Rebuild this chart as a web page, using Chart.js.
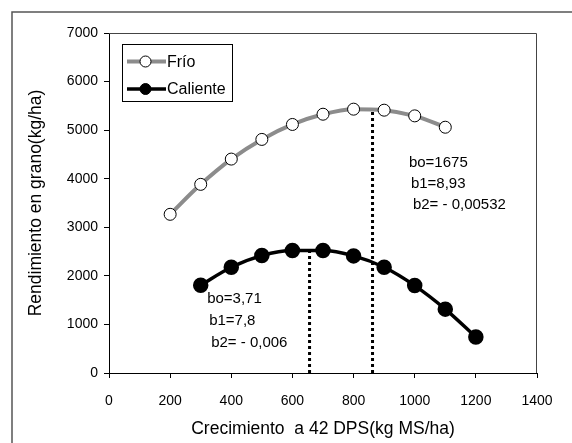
<!DOCTYPE html>
<html>
<head>
<meta charset="utf-8">
<script src="https://cdn.jsdelivr.net/npm/chart.js@4.4.1/dist/chart.umd.min.js"></script>
<style>
  html, body { margin: 0; padding: 0; background: #fff; }
  #wrap { width: 572px; height: 443px; }
</style>
</head>
<body>
<div id="wrap"><canvas id="grafico" width="572" height="443"></canvas></div>
<script>
// datos
const crecimientoFrio = [200, 300, 400, 500, 600, 700, 800, 900, 1000, 1100];
const rendFrio = [3267, 3884, 4404, 4809, 5117, 5328, 5432, 5411, 5294, 5060];
const crecimientoCaliente = [300, 400, 500, 600, 700, 800, 900, 1000, 1100, 1200];
const rendCaliente = [1808, 2178, 2417, 2520, 2520, 2411, 2178, 1800, 1315, 740];

// lineas de puntos (optimo de cada curva)
const optimoCaliente = [[656, 0], [656, 2520]];
const optimoFrio = [[862, 0], [862, 5420]];

const textoFrio = ['bo=1675', 'b1=8,93', 'b2= - 0,00532'];
const textoCaliente = ['bo=3,71', 'b1=7,8', 'b2= - 0,006'];

const fuente = "'Liberation Sans', Arial, sans-serif";

function pares(xs, ys) {
    return xs.map((x, i) => ({ x: x, y: ys[i] }));
}

const extras = {
    id: 'extras',
    afterDraw(chart) {
        const ctx = chart.ctx;
        const a = chart.chartArea;
        const sx = chart.scales.x, sy = chart.scales.y;
        ctx.save();
        // marco exterior (solo izquierda y arriba se ven)
        ctx.strokeStyle = '#555';
        ctx.lineWidth = 1.5;
        ctx.beginPath();
        ctx.moveTo(12, 443);
        ctx.lineTo(12, 12);
        ctx.lineTo(572, 12);
        ctx.stroke();
        // borde del area
        ctx.strokeStyle = '#444';
        ctx.lineWidth = 1;
        ctx.beginPath();
        ctx.moveTo(a.left, a.top + 0.5);
        ctx.lineTo(a.right - 0.5, a.top + 0.5);
        ctx.lineTo(a.right - 0.5, a.bottom);
        ctx.stroke();

        // textos de coeficientes
        ctx.fillStyle = '#000';
        ctx.font = '15px ' + fuente;
        ctx.textBaseline = 'middle';
        let x0 = sx.getPixelForValue(981), y0 = sy.getPixelForValue(4328);
        textoFrio.forEach((t, i) => ctx.fillText(t, x0 + i * 2, y0 + i * 21));
        x0 = sx.getPixelForValue(321); y0 = sy.getPixelForValue(1521);
        textoCaliente.forEach((t, i) => ctx.fillText(t, x0 + i * 2, y0 + i * 22));

        // leyenda
        const lx = 122, ly = 44;
        ctx.fillStyle = '#fff';
        ctx.fillRect(lx, ly, 110, 57);
        ctx.strokeStyle = '#000';
        ctx.lineWidth = 1;
        ctx.strokeRect(lx + 0.5, ly + 0.5, 110, 57);
        const items = [
            { t: 'Frío', c: '#8c8c8c', f: '#fff', w: 4, y: ly + 17.5 },
            { t: 'Caliente', c: '#000', f: '#000', w: 3.5, y: ly + 45 }
        ];
        items.forEach(it => {
            ctx.strokeStyle = it.c;
            ctx.lineWidth = it.w;
            ctx.beginPath();
            ctx.moveTo(lx + 5, it.y);
            ctx.lineTo(lx + 44, it.y);
            ctx.stroke();
            ctx.beginPath();
            ctx.arc(lx + 23.5, it.y, 5.5, 0, Math.PI * 2);
            ctx.fillStyle = it.f;
            ctx.fill();
            ctx.lineWidth = 1;
            ctx.strokeStyle = '#000';
            ctx.stroke();
            ctx.fillStyle = '#000';
            ctx.font = '16px ' + fuente;
            ctx.fillText(it.t, lx + 45, it.y + 1);
        });
        ctx.restore();
    }
};

const config = {
    type: 'line',
    data: {
        datasets: [
            {
                label: 'Frío',
                data: pares(crecimientoFrio, rendFrio),
                borderColor: '#8c8c8c',
                borderWidth: 4,
                pointBackgroundColor: '#fff',
                pointBorderColor: '#000',
                pointBorderWidth: 1,
                pointRadius: 6,
                tension: 0.4,
                cubicInterpolationMode: 'monotone'
            },
            {
                label: 'Caliente',
                data: pares(crecimientoCaliente, rendCaliente),
                borderColor: '#000',
                borderWidth: 3.5,
                pointBackgroundColor: '#000',
                pointBorderColor: '#000',
                pointRadius: 6,
                tension: 0.4,
                cubicInterpolationMode: 'monotone'
            },
            {
                label: 'optC',
                data: optimoCaliente.map(p => ({ x: p[0], y: p[1] })),
                borderColor: '#000',
                borderWidth: 3,
                borderDash: [3, 3],
                pointRadius: 0,
                tension: 0
            },
            {
                label: 'optF',
                data: optimoFrio.map(p => ({ x: p[0], y: p[1] })),
                borderColor: '#000',
                borderWidth: 3,
                borderDash: [3, 3],
                pointRadius: 0,
                tension: 0
            }
        ]
    },
    options: {
        responsive: false,
        animation: false,
        layout: { padding: { left: 0, right: 35, top: 33, bottom: 0 } },
        plugins: { legend: { display: false }, tooltip: { enabled: false } },
        scales: {
            x: {
                type: 'linear',
                min: 0, max: 1400,
                ticks: { stepSize: 200, color: '#000', font: { family: fuente, size: 14 }, padding: 15, callback: v => String(v) },
                grid: { drawOnChartArea: false, drawTicks: true, tickLength: 5, color: '#000' },
                border: { color: '#000' },
                title: { display: true, text: 'Crecimiento  a 42 DPS(kg MS/ha)', color: '#000', font: { family: fuente, size: 17.5 }, padding: { top: 4, bottom: 3 } },
                afterFit(s) { s.height = 70; }
            },
            y: {
                min: 0, max: 7000,
                ticks: { stepSize: 1000, color: '#000', font: { family: fuente, size: 14 }, padding: 6, callback: v => String(v) },
                grid: { drawOnChartArea: false, drawTicks: true, tickLength: 5, color: '#000' },
                border: { color: '#000' },
                title: { display: true, text: 'Rendimiento en grano(kg/ha)', color: '#000', font: { family: fuente, size: 17.5 }, padding: { top: 26, bottom: 0 } },
                afterFit(s) { s.width = 109; }
            }
        }
    },
    plugins: [extras]
};

const miGrafico = new Chart(document.getElementById('grafico'), config);
</script>
</body>
</html>
